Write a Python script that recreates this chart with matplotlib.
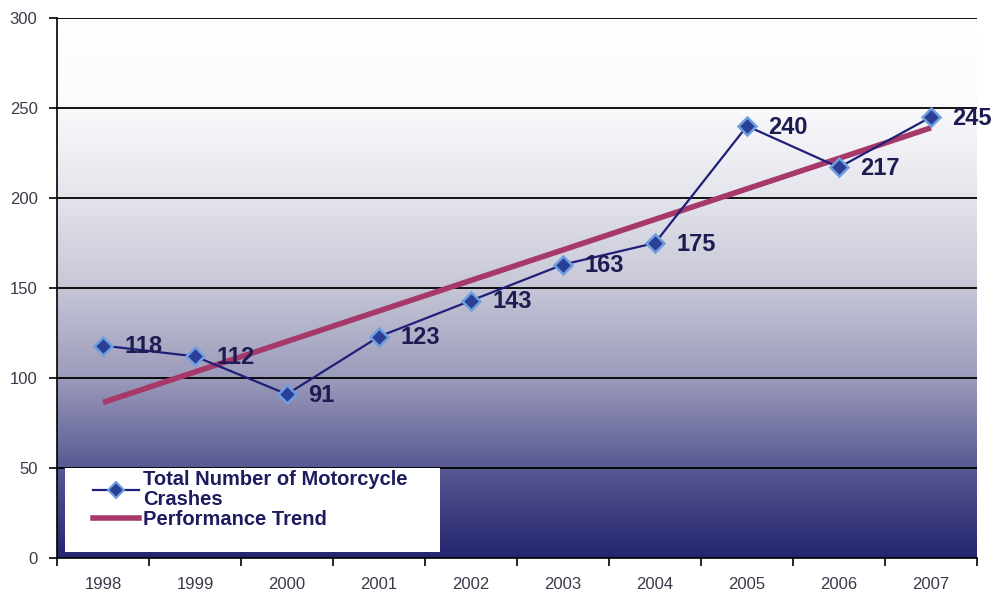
import numpy as np
import matplotlib
matplotlib.use("Agg")
import matplotlib.pyplot as plt
from matplotlib.colors import LinearSegmentedColormap
from matplotlib.patches import Rectangle
from matplotlib.lines import Line2D

years = ["1998", "1999", "2000", "2001", "2002", "2003", "2004", "2005", "2006", "2007"]
crashes = [118, 112, 91, 123, 143, 163, 175, 240, 217, 245]
trend_ends = [86.4, 239.0]  # performance trend at first and last year
y_ticks = [0, 50, 100, 150, 200, 250, 300]

plt.rcParams['font.family'] = ['Liberation Sans', 'DejaVu Sans']

fig = plt.figure(figsize=(9.95, 5.98), dpi=100)
ax = fig.add_axes([57/995, 40/598, 920/995, 540/598])

n = len(years)
x = np.arange(n)
ax.set_xlim(-0.5, n - 0.5)
ax.set_ylim(0, 300)

# gradient background
cmap = LinearSegmentedColormap.from_list(
    "bg", [(0.0, "#25256f"), (0.17, "#5a5a94"), (0.33, "#9a9abb"),
           (0.5, "#c6c6d7"), (0.67, "#e4e4ec"), (0.85, "#fbfbfd"), (1.0, "#ffffff")])
grad = np.linspace(0, 1, 256).reshape(-1, 1)
ax.imshow(grad, aspect="auto", cmap=cmap, origin="lower",
          extent=(-0.5, n - 0.5, 0, 300), zorder=0)

# grid
for v in y_ticks[1:]:
    ax.axhline(v, color="black", lw=1.3, zorder=1)

# trend
ax.plot([x[0], x[-1]], trend_ends, color="#a6386a", lw=4, zorder=3,
        solid_capstyle="butt")
# data line
ax.plot(x, crashes, color="#1f1f78", lw=1.6, zorder=4)
ax.plot(x, crashes, linestyle="none", marker="D", markersize=9.5,
        markerfacecolor="#2c3f96", markeredgecolor="#6f9fdf",
        markeredgewidth=1.8, zorder=5)

for xi, v in zip(x, crashes):
    ax.annotate(str(v), (xi, v), xytext=(15.5, -1), textcoords="offset points",
                ha="left", va="center", fontsize=17, fontweight="bold",
                color="#1c1c52", zorder=6)

# axes styling
for s in ["top", "right"]:
    ax.spines[s].set_visible(False)
ax.spines["left"].set_color("black")
ax.spines["bottom"].set_color("black")
ax.spines["left"].set_linewidth(1.2)
ax.spines["bottom"].set_linewidth(1.2)

ax.set_yticks(y_ticks)
ax.set_yticklabels([str(v) for v in y_ticks], fontsize=12, color="#3a3a4a")
ax.tick_params(axis="y", length=6, width=1.2, pad=8)

ax.set_xticks(np.arange(-0.5, n, 1.0))
ax.set_xticklabels([])
ax.tick_params(axis="x", which="major", length=6, width=1.2, direction="out")
ax.set_xticks(x, minor=True)
ax.set_xticklabels(years, minor=True, fontsize=12, color="#3a3a4a")
ax.tick_params(axis="x", which="minor", length=0, pad=13.5)

# legend box
rect = Rectangle((8/920, 6/540), 375/920, 84/540, transform=ax.transAxes,
                 facecolor="white", edgecolor="none", zorder=7)
ax.add_patch(rect)
handles = [
    Line2D([], [], color="#1f1f78", lw=1.6, marker="D", markersize=8,
           markerfacecolor="#2c3f96", markeredgecolor="#6f9fdf", markeredgewidth=1.5),
    Line2D([], [], color="#a6386a", lw=4),
]
leg = ax.legend(handles, ["Total Number of Motorcycle\nCrashes", "Performance Trend"],
                loc="upper left", bbox_to_anchor=(36/920, (558-470)/540),
                frameon=False, prop={"weight": "bold", "size": 14.5},
                handlelength=2.3, handletextpad=0.2, labelspacing=0.05,
                borderaxespad=0, borderpad=0)
for t in leg.get_texts():
    t.set_color("#1c1c5e")
    t.set_linespacing(1.08)
leg.set_zorder(8)

fig.savefig("out.png", dpi=100)
